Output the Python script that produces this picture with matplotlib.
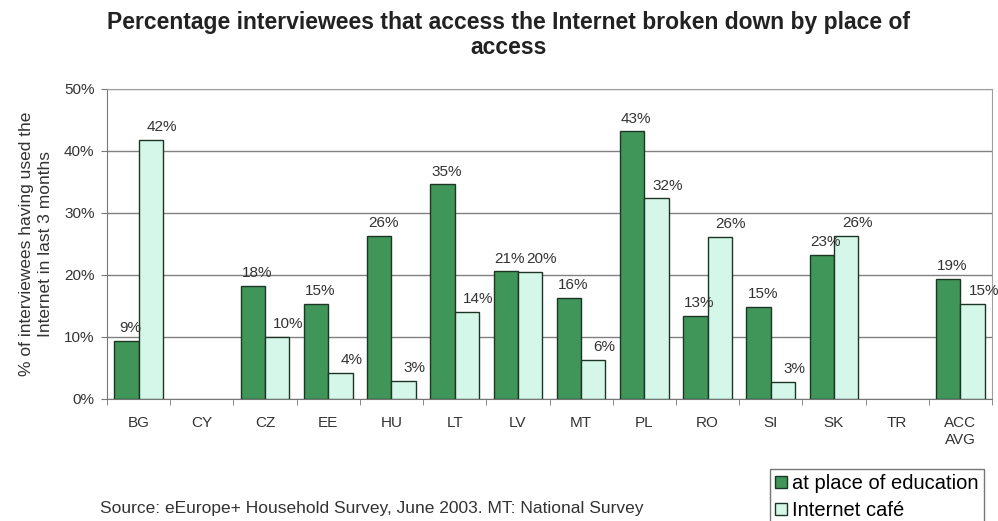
import matplotlib
matplotlib.use("Agg")
import matplotlib.pyplot as plt
import numpy as np

categories = ["BG", "CY", "CZ", "EE", "HU", "LT", "LV", "MT", "PL", "RO", "SI", "SK", "TR", "ACC\nAVG"]
education = [9.4, np.nan, 18.3, 15.4, 26.3, 34.6, 20.6, 16.3, 43.2, 13.4, 14.9, 23.3, np.nan, 19.4]
cafe = [41.8, np.nan, 10.0, 4.2, 2.9, 14.1, 20.5, 6.3, 32.4, 26.2, 2.8, 26.3, np.nan, 15.4]
yticks = [0, 10, 20, 30, 40, 50]

plt.rcParams['font.family'] = ['Liberation Sans', 'DejaVu Sans']

fig = plt.figure(figsize=(9.98, 5.21), dpi=100)
ax = fig.add_axes([107/998, 1-399/521, (992-107)/998, (399-89)/521])

x = np.arange(len(categories))
w = 0.385
edu_col = "#3f9658"
cafe_col = "#d4f7ea"
edge = "#1d3525"

edu_arr = np.array(education, dtype=float)
cafe_arr = np.array(cafe, dtype=float)
m1 = ~np.isnan(edu_arr)
m2 = ~np.isnan(cafe_arr)

ax.bar(x[m1] - w/2, edu_arr[m1], w, color=edu_col, edgecolor=edge, linewidth=1.0,
       label="at place of education", zorder=3)
ax.bar(x[m2] + w/2, cafe_arr[m2], w, color=cafe_col, edgecolor=edge, linewidth=1.0,
       label="Internet café", zorder=3)

for i in range(len(categories)):
    if m1[i]:
        ax.annotate(f"{round(edu_arr[i])}%", (x[i] - w/2, edu_arr[i]), xytext=(3, 4),
                    textcoords="offset points", ha="center", va="bottom", fontsize=11, color="#333333", zorder=4)
    if m2[i]:
        ax.annotate(f"{round(cafe_arr[i])}%", (x[i] + w/2, cafe_arr[i]), xytext=(8, 4),
                    textcoords="offset points", ha="center", va="bottom", fontsize=11, color="#333333", zorder=4)

ax.set_xlim(-0.5, len(categories) - 0.5)
ax.set_ylim(0, 50)
ax.set_yticks(yticks)
ax.set_yticklabels([f"{t}%" for t in yticks], fontsize=11, color="#333333")
ax.yaxis.grid(True, color="#808080", linewidth=1.0, zorder=0)
ax.set_xticks(x)
ax.set_xticklabels(categories, fontsize=11, color="#333333", va="top", linespacing=1.3)
ax.tick_params(axis="x", length=0, pad=12)
ax.set_xticks(np.arange(len(categories) + 1) - 0.5, minor=True)
ax.tick_params(axis="x", which="minor", length=4, direction="out", color="#777777")
ax.tick_params(axis="y", length=4, direction="out", color="#777777", pad=5)

for s in ["top", "right"]:
    ax.spines[s].set_color("#a0a0a0")
ax.spines["left"].set_color("#777777")
ax.spines["bottom"].set_color("#777777")

ax.set_ylabel("% of interviewees having used the\nInternet in last 3 months", fontsize=12.5, color="#333333",
              labelpad=8, linespacing=1.3)

fig.text(0.51, 1-22/521, "Percentage interviewees that access the Internet broken down by place of",
         ha="center", va="center", fontsize=16.5, fontweight="bold", color="#222222")
fig.text(0.51, 1-48/521, "access", ha="center", va="center", fontsize=16.5, fontweight="bold", color="#222222")

fig.text(100/998, 1-508/521, "Source: eEurope+ Household Survey, June 2003. MT: National Survey",
         ha="left", va="center", fontsize=12.5, color="#333333")

leg = fig.legend(loc="upper left", bbox_to_anchor=(770/998, 1-469/521), fontsize=14.5, frameon=True,
                 fancybox=False, edgecolor="#555555", handlelength=0.6, handleheight=0.6,
                 handletextpad=0.25, borderpad=0.25, labelspacing=0.4, borderaxespad=0)
leg.get_frame().set_linewidth(1.0)

fig.savefig("out.png", dpi=100)
